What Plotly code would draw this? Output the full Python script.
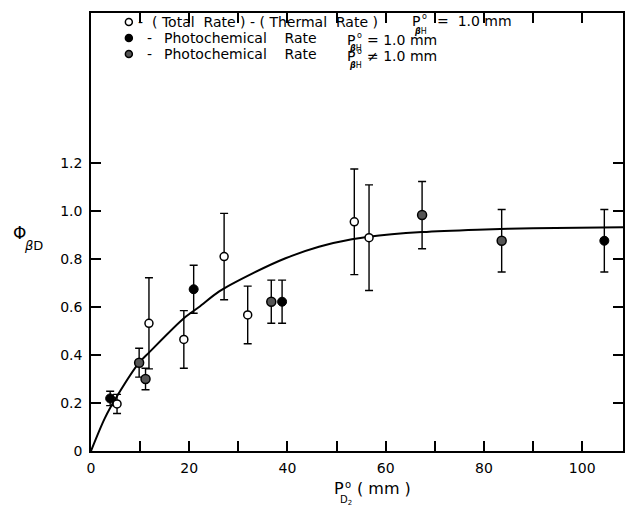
import plotly.graph_objects as go

# ---- data ----
open_x = [5.3, 11.8, 18.9, 27.1, 31.9, 53.6, 56.6]
open_y = [0.196, 0.532, 0.465, 0.81, 0.567, 0.955, 0.889]
open_err = [0.04, 0.19, 0.12, 0.18, 0.12, 0.22, 0.22]

filled_x = [3.9, 20.9, 38.9, 104.5]
filled_y = [0.219, 0.674, 0.622, 0.876]
filled_err = [0.03, 0.10, 0.09, 0.13]

gray_x = [9.8, 11.1, 36.7, 67.4, 83.6]
gray_y = [0.368, 0.30, 0.622, 0.983, 0.876]
gray_err = [0.06, 0.045, 0.09, 0.14, 0.13]

curve_x = [0, 2.8, 5.5, 9.8, 11.8, 18.9, 22.0, 26.1, 32.9, 39.6, 46.4, 53.1, 56.5, 67.4, 78.7, 90.0, 108.3]
curve_y = [0, 0.136, 0.235, 0.368, 0.41, 0.553, 0.60, 0.665, 0.74, 0.803, 0.851, 0.882, 0.893, 0.912, 0.922, 0.928, 0.932]

x_tickvals = [0, 10, 20, 30, 40, 50, 60, 70, 80, 90, 100]
x_ticktext = ["0", " ", "20", " ", "40", " ", "60", " ", "80", " ", "100"]
y_tickvals = [0, 0.2, 0.4, 0.6, 0.8, 1.0, 1.2]
y_ticktext = ["0", "0.2", "0.4", "0.6", "0.8", "1.0", "1.2"]

FONT = "DejaVu Sans"
W, H = 626, 514
L, R, T, B = 91, 1, 13, 63
PW, PH = W - L - R, H - T - B


def px(xp):
    return (xp - L) / PW


def py(yp):
    return (H - B - yp) / PH


fig = go.Figure()

fig.add_trace(go.Scatter(x=curve_x, y=curve_y, mode="lines",
                         line=dict(color="black", width=2, shape="spline", smoothing=0.8),
                         hoverinfo="skip", showlegend=False))

eb = dict(type="data", visible=True, color="black", thickness=1.4, width=4)

fig.add_trace(go.Scatter(x=open_x, y=open_y, mode="markers",
                         error_y=dict(array=open_err, **eb),
                         marker=dict(symbol="circle", size=8, color="white",
                                     line=dict(color="black", width=1.5)),
                         showlegend=False))
fig.add_trace(go.Scatter(x=filled_x, y=filled_y, mode="markers",
                         error_y=dict(array=filled_err, **eb),
                         marker=dict(symbol="circle", size=9, color="black",
                                     line=dict(color="black", width=1)),
                         showlegend=False))
fig.add_trace(go.Scatter(x=gray_x, y=gray_y, mode="markers",
                         error_y=dict(array=gray_err, **eb),
                         marker=dict(symbol="circle", size=9, color="#555555",
                                     line=dict(color="black", width=1.5)),
                         showlegend=False))

axis_common = dict(showline=True, linecolor="black", linewidth=1.5, mirror="allticks",
                   ticks="inside", ticklen=10, tickwidth=1.5, tickcolor="black",
                   showgrid=False, zeroline=False,
                   tickfont=dict(family=FONT, size=14, color="black"))

fig.update_xaxes(range=[0, 108.3], tickmode="array", tickvals=x_tickvals,
                 ticktext=x_ticktext, ticklabelstandoff=3, **axis_common)
fig.update_yaxes(range=[0, 1.825], tickmode="array", tickvals=y_tickvals,
                 ticktext=y_ticktext, ticklabelstandoff=4, **axis_common)

ann = []


def text(xp, yp, s, size=14, anchor="left"):
    ann.append(dict(x=px(xp), y=py(yp), xref="paper", yref="paper", text=s,
                    showarrow=False, xanchor=anchor, yanchor="middle", borderpad=0,
                    font=dict(family=FONT, size=size, color="black")))


# legend text rows
text(137, 22, "-", 14)
text(151, 22, "( Total  Rate ) - ( Thermal  Rate )", 14)
text(146, 38, "-", 14)
text(163, 38, "Photochemical    Rate", 14)
text(146, 54, "-", 14)
text(163, 54, "Photochemical    Rate", 14)
# P°_βH labels
for (xp, yp, gap, rest, subdy) in [(412, 21, 25, "=  1.0 mm", 10), (347, 40, 20, "= 1.0 mm", 8),
                                   (347, 56, 20, "≠ 1.0 mm", 9)]:
    text(xp, yp, "P", 14)
    text(xp + 10, yp - 5, "o", 8)
    text(xp + 2, yp + subdy, "<i><b>β</b></i>H", 8)
    text(xp + gap, yp, rest, 14)

# y-axis title
text(12, 233, "Φ", 17)
text(23, 245, "<i>β</i>D", 13)
# x-axis title
text(334, 488, "P", 16)
text(345, 484, "o", 10)
text(340, 500, "D<sub>2</sub>", 10)
text(357, 488, "( mm )", 16)

fig.update_layout(annotations=ann)

shapes = []
for (yp, fill) in [(22, "white"), (38, "black"), (54, "#555555")]:
    shapes.append(dict(type="circle", xref="paper", yref="paper",
                       xsizemode="pixel", ysizemode="pixel",
                       xanchor=px(129), yanchor=py(yp), x0=-3.5, x1=3.5, y0=-3.5, y1=3.5,
                       fillcolor=fill, line=dict(color="black", width=1.5)))
fig.update_layout(shapes=shapes)

fig.update_layout(width=W, height=H, margin=dict(l=L, r=R, t=T, b=B, pad=0),
                  paper_bgcolor="white", plot_bgcolor="white", showlegend=False,
                  font=dict(family=FONT, color="black"))

fig.write_html("out.html", config={"displayModeBar": False},
               post_script="document.body.style.margin='0px';document.body.style.overflow='hidden';")
